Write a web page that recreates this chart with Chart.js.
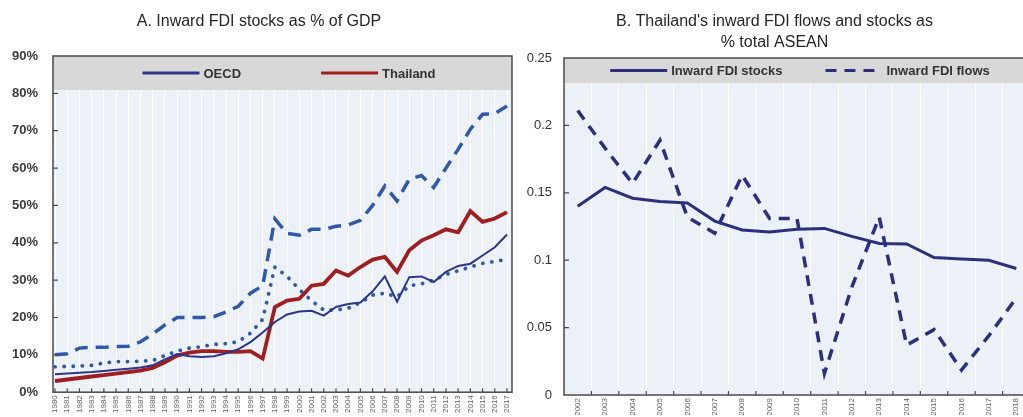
<!DOCTYPE html>
<html>
<head>
<meta charset="utf-8">
<script src="https://cdn.jsdelivr.net/npm/chart.js@4.4.0/dist/chart.umd.min.js"></script>
<style>
  html, body { margin: 0; padding: 0; background: #fff; overflow: hidden; }
  #wrap { position: relative; width: 1023px; height: 417px; overflow: hidden; }
  .panel { position: absolute; top: 0; height: 417px; }
  #panelA { left: 0; width: 515px; }
  #panelB { left: 515px; width: 517px; }
</style>
</head>
<body>
<div id="wrap">
  <div class="panel" id="panelA"><canvas id="chartA"></canvas></div>
  <div class="panel" id="panelB"><canvas id="chartB"></canvas></div>
</div>
<script>
// Panel A: inward FDI stocks, % of GDP
const yearsA = ['1980','1981','1982','1983','1984','1985','1986','1987','1988','1989',
  '1990','1991','1992','1993','1994','1995','1996','1997','1998','1999',
  '2000','2001','2002','2003','2004','2005','2006','2007','2008','2009',
  '2010','2011','2012','2013','2014','2015','2016','2017'];
const oecdStock = [4.8, 5.0, 5.2, 5.4, 5.7, 6.0, 6.3, 6.6, 7.2, 8.8,
  10.2, 9.6, 9.4, 9.6, 10.4, 11.5, 13.4, 16.0, 18.8, 20.8,
  21.6, 21.8, 20.5, 22.8, 23.6, 24.0, 27.0, 31.0, 24.2, 30.8,
  31.0, 29.5, 32.2, 33.8, 34.4, 36.6, 38.8, 42.2];
const thaiStock = [3.0, 3.4, 3.8, 4.2, 4.6, 5.0, 5.4, 5.8, 6.5, 8.0,
  9.8, 10.6, 11.0, 11.0, 10.8, 10.8, 11.0, 9.0, 22.8, 24.5,
  25.0, 28.5, 29.0, 32.6, 31.2, 33.5, 35.5, 36.2, 32.2, 38.0,
  40.6, 42.0, 43.6, 42.8, 48.5, 45.6, 46.5, 48.2];
const dashedStock = [10.0, 10.3, 11.8, 12.0, 12.0, 12.2, 12.3, 13.5, 15.6, 18.0,
  20.0, 20.0, 20.0, 20.2, 21.5, 23.0, 26.5, 28.5, 46.4, 42.5,
  42.0, 43.6, 43.6, 44.4, 44.8, 46.0, 50.0, 55.2, 51.2, 57.0,
  58.0, 54.8, 60.0, 65.0, 70.4, 74.4, 74.6, 76.6];
const dottedStock = [6.8, 6.9, 7.0, 7.2, 7.8, 8.2, 8.2, 8.3, 8.5, 9.8,
  11.0, 11.8, 12.2, 12.8, 13.0, 13.5, 15.8, 19.5, 33.5, 31.0,
  27.5, 24.5, 22.0, 22.0, 22.5, 24.0, 26.0, 26.5, 25.5, 28.5,
  29.0, 30.0, 31.5, 32.5, 33.5, 34.5, 35.0, 35.6];
const ticksA = [0, 10, 20, 30, 40, 50, 60, 70, 80, 90];

// Panel B: Thailand's share of ASEAN inward FDI
const yearsB = ['2002','2003','2004','2005','2006','2007','2008','2009','2010',
  '2011','2012','2013','2014','2015','2016','2017','2018'];
const fdiStocks = [0.140, 0.154, 0.146, 0.1435, 0.1425, 0.129, 0.1224, 0.121, 0.123,
  0.1236, 0.1177, 0.1124, 0.112, 0.102, 0.1008, 0.100, 0.0938];
const fdiFlows = [0.211, 0.183, 0.157, 0.189, 0.132, 0.120, 0.163, 0.131, 0.131,
  0.016, 0.080, 0.132, 0.037, 0.0485, 0.0185, 0.044, 0.072];
const ticksB = [0, 0.05, 0.1, 0.15, 0.2, 0.25];

Chart.defaults.font.family = '"Liberation Sans", Arial, sans-serif';
Chart.defaults.animation = false;

// plot box: pale background, grey legend band with line samples, dark frame and inner tick marks
const panelFrame = {
  id: 'panelFrame',
  beforeDraw(chart, args, opts) {
    const {ctx, chartArea: a} = chart;
    const L = a.left - opts.padLeft, R = a.right + opts.padRight;
    ctx.save();
    ctx.fillStyle = '#ecf1f7';
    ctx.fillRect(L, a.top, R - L, a.bottom - a.top);
    ctx.restore();
  },
  beforeDatasetsDraw(chart, args, opts) {
    const {ctx, chartArea: a} = chart;
    const L = a.left - opts.padLeft, R = a.right + opts.padRight;
    ctx.save();
    ctx.fillStyle = '#d8d8d8';
    ctx.fillRect(L, a.top, R - L, opts.bandHeight);
    ctx.font = 'bold 13px "Liberation Sans", Arial, sans-serif';
    ctx.textBaseline = 'middle';
    const items = opts.items.map(i => chart.data.datasets[i]);
    const widths = items.map(d => ctx.measureText(d.label).width);
    const lineLen = 57, textGap = 4;
    const total = widths.reduce((s, w) => s + lineLen + textGap + w, 0) + opts.itemGap * (items.length - 1);
    let x = opts.legendCenter - total / 2;
    const y = a.top + opts.bandHeight / 2;
    items.forEach((d, k) => {
      ctx.strokeStyle = d.borderColor;
      ctx.lineWidth = 3;
      ctx.lineCap = 'butt';
      ctx.setLineDash(d.borderDash || []);
      ctx.beginPath();
      ctx.moveTo(x, y);
      ctx.lineTo(x + lineLen, y);
      ctx.stroke();
      ctx.setLineDash([]);
      ctx.fillStyle = '#333';
      ctx.fillText(d.label, x + lineLen + textGap, y + 1);
      x += lineLen + textGap + widths[k] + opts.itemGap;
    });
    ctx.restore();
  },
  afterDatasetsDraw(chart, args, opts) {
    const {ctx, chartArea: a, scales} = chart;
    const L = a.left - opts.padLeft, R = a.right + opts.padRight;
    ctx.save();
    ctx.strokeStyle = '#4a4a4a';
    ctx.lineWidth = 1.5;
    ctx.strokeRect(L, a.top, R - L, a.bottom - a.top);
    ctx.lineWidth = 1.2;
    ctx.beginPath();
    scales.y.ticks.forEach(t => {
      const py = scales.y.getPixelForValue(t.value);
      if (py <= a.top + 1 || py >= a.bottom - 1) return;
      ctx.moveTo(L, py);
      ctx.lineTo(L + 5, py);
    });
    const n = scales.x.ticks.length;
    const step = n > 1 ? scales.x.getPixelForValue(1) - scales.x.getPixelForValue(0) : 0;
    for (let i = 0; i < n; i++) {
      const px = scales.x.getPixelForValue(i) + (opts.tickBetween ? step / 2 : 0);
      if (px <= L + 1 || px >= R - 1) continue;
      ctx.moveTo(px, a.bottom);
      ctx.lineTo(px, a.bottom - 4);
    }
    ctx.stroke();
    ctx.restore();
  }
};

new Chart(document.getElementById('chartA'), {
  type: 'line',
  data: {
    labels: yearsA,
    datasets: [
      {label: 'OECD', data: oecdStock, borderColor: '#2c3589', borderWidth: 2, pointRadius: 0, tension: 0},
      {label: 'Thailand', data: thaiStock, borderColor: '#9e1f1f', borderWidth: 3.8, pointRadius: 0, tension: 0},
      {label: 'Upper', data: dashedStock, borderColor: '#2f58a8', borderWidth: 3.5, borderDash: [13, 8], pointRadius: 0, tension: 0},
      {label: 'Median', data: dottedStock, borderColor: '#2f58a8', borderWidth: 3.8, borderDash: [0.1, 9], borderCapStyle: 'round', pointRadius: 0, tension: 0}
    ]
  },
  options: {
    responsive: true,
    maintainAspectRatio: false,
    layout: {padding: {left: 11, right: 8, top: 0, bottom: 0}},
    plugins: {
      legend: {display: false},
      tooltip: {enabled: false},
      title: {
        display: true,
        text: 'A. Inward FDI stocks as % of GDP',
        color: '#262626',
        font: {size: 16, weight: 'normal'},
        padding: {top: 12, bottom: 24.8}
      },
      panelFrame: {padLeft: 2, padRight: 5, bandHeight: 34, items: [0, 1], itemGap: 80, legendCenter: 289, tickBetween: false}
    },
    scales: {
      x: {
        offset: false,
        grid: {color: '#ffffff', lineWidth: 1, drawTicks: false},
        border: {display: false},
        ticks: {autoSkip: false, minRotation: 90, maxRotation: 90, color: '#666', font: {size: 8}, padding: 3},
        afterFit(scale) { scale.height = 23; scale.paddingLeft = 0; scale.paddingRight = 0; }
      },
      y: {
        min: 0, max: 90,
        afterBuildTicks(scale) { scale.ticks = ticksA.map(v => ({value: v})); },
        grid: {display: false, drawTicks: false},
        border: {display: false},
        ticks: {callback: v => v + '%', color: '#3c3c3c', font: {size: 13, weight: 'bold'}, padding: 17},
        afterFit(scale) { scale.width = 44; }
      }
    }
  },
  plugins: [panelFrame]
});

new Chart(document.getElementById('chartB'), {
  type: 'line',
  data: {
    labels: yearsB,
    datasets: [
      {label: 'Inward FDI stocks', data: fdiStocks, borderColor: '#2b2f7c', borderWidth: 3, pointRadius: 0, tension: 0},
      {label: 'Inward FDI flows', data: fdiFlows, borderColor: '#2b2f7c', borderWidth: 3.5, borderDash: [11, 8], pointRadius: 0, tension: 0}
    ]
  },
  options: {
    responsive: true,
    maintainAspectRatio: false,
    layout: {padding: {left: 4, right: 2, top: 0, bottom: 0}},
    plugins: {
      legend: {display: false},
      tooltip: {enabled: false},
      title: {
        display: true,
        text: ["B. Thailand's inward FDI flows and stocks as", '% total ASEAN'],
        color: '#262626',
        font: {size: 16, weight: 'normal', lineHeight: 1.3},
        padding: {top: 11.6, bottom: 4.8}
      },
      panelFrame: {padLeft: 0, padRight: 0, bandHeight: 25, items: [0, 1], itemGap: 43, legendCenter: 285, tickBetween: true}
    },
    scales: {
      x: {
        offset: true,
        grid: {color: '#ffffff', lineWidth: 1, drawTicks: false, offset: true},
        border: {display: false},
        ticks: {autoSkip: false, minRotation: 90, maxRotation: 90, color: '#666', font: {size: 8}, padding: 3},
        afterFit(scale) { scale.height = 22; }
      },
      y: {
        min: 0, max: 0.25,
        afterBuildTicks(scale) { scale.ticks = ticksB.map(v => ({value: v})); },
        grid: {display: false, drawTicks: false},
        border: {display: false},
        ticks: {callback: v => String(+v.toFixed(2)), color: '#333', font: {size: 13}, padding: 12},
        afterFit(scale) { scale.width = 45; }
      }
    }
  },
  plugins: [panelFrame]
});
</script>
</body>
</html>
